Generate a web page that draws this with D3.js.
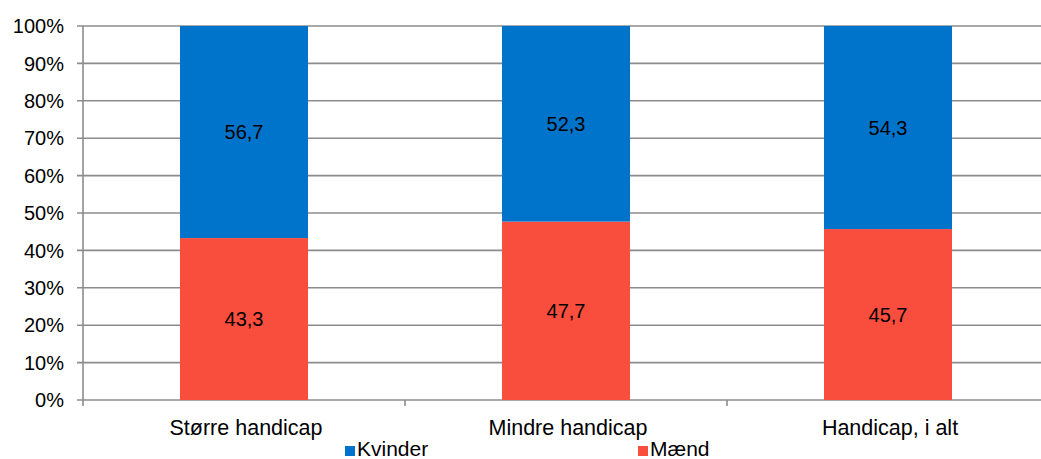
<!DOCTYPE html>
<html><head><meta charset="utf-8">
<script src="https://cdn.jsdelivr.net/npm/d3@7"></script>
<style>body{margin:0;background:#fff}svg{display:block;font-family:"Liberation Sans",Arial,sans-serif}</style>
</head><body><svg id="c" width="1041" height="459"></svg>
<script>
const categories = ["Større handicap", "Mindre handicap", "Handicap, i alt"];
const maend = [43.3, 47.7, 45.7];
const kvinder = [56.7, 52.3, 54.3];
const yTicks = [0, 10, 20, 30, 40, 50, 60, 70, 80, 90, 100];
const seriesNames = ["Kvinder", "Mænd"];
const colors = {"Kvinder": "#0073CB", "Mænd": "#F94D3D"};

const svg = d3.select("#c");
const L = 83, R = 1049, T = 26, B = 400;
const x = d3.scaleBand().domain(categories).range([L, R]).paddingInner(0).paddingOuter(0);
const y = d3.scaleLinear().domain([0, 100]).range([B, T]);
const bw = 128;

// gridlines
svg.append("g").selectAll("line").data(yTicks).join("line")
  .attr("x1", L - 6).attr("x2", R).attr("y1", d => y(d)).attr("y2", d => y(d))
  .attr("stroke", "#8c8c8c").attr("stroke-width", 1.6);
// left axis
svg.append("line").attr("x1", L).attr("x2", L).attr("y1", T).attr("y2", B + 6)
  .attr("stroke", "#8c8c8c").attr("stroke-width", 1.6);
// category ticks
svg.append("g").selectAll("line").data(categories.slice(1).map((c) => x(c)).concat([R])).join("line")
  .attr("x1", d => d).attr("x2", d => d).attr("y1", B).attr("y2", B + 6)
  .attr("stroke", "#8c8c8c").attr("stroke-width", 1.6);

svg.append("g").selectAll("text").data(yTicks).join("text")
  .attr("x", L - 19).attr("y", d => y(d)).attr("dy", "0.36em")
  .attr("text-anchor", "end").attr("font-size", 20).attr("fill", "#000")
  .text(d => d + "%");

const stack = categories.map((c, i) => ({c, m: maend[i], k: kvinder[i]}));
const g = svg.append("g");
stack.forEach(d => {
  const cx = x(d.c) + x.bandwidth() / 2;
  g.append("rect").attr("x", cx - bw / 2).attr("width", bw)
    .attr("y", y(d.m)).attr("height", y(0) - y(d.m)).attr("fill", colors["Mænd"]);
  g.append("rect").attr("x", cx - bw / 2).attr("width", bw)
    .attr("y", y(d.m + d.k)).attr("height", y(d.m) - y(d.m + d.k)).attr("fill", colors["Kvinder"]);
  g.append("text").attr("x", cx).attr("y", y(d.m / 2)).attr("dy", "0.36em")
    .attr("text-anchor", "middle").attr("font-size", 20).text(String(d.m).replace(".", ","));
  g.append("text").attr("x", cx).attr("y", y(d.m + d.k / 2)).attr("dy", "0.36em")
    .attr("text-anchor", "middle").attr("font-size", 20).text(String(d.k).replace(".", ","));
  g.append("text").attr("x", cx + 2).attr("y", 435)
    .attr("text-anchor", "middle").attr("font-size", 21.5).text(d.c);
});

const legX = [345, 638];
seriesNames.forEach((s, i) => {
  svg.append("rect").attr("x", legX[i]).attr("y", 446).attr("width", 10).attr("height", 10).attr("fill", colors[s]);
  svg.append("text").attr("x", legX[i] + 12).attr("y", 456).attr("font-size", 21).text(s);
});
</script></body></html>
